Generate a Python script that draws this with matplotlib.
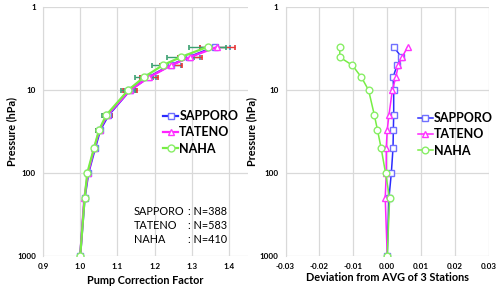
import numpy as np
import matplotlib
matplotlib.use("Agg")
import matplotlib.pyplot as plt
from matplotlib.ticker import FixedLocator, NullLocator

plt.rcParams['font.family'] = ['Lato', 'DejaVu Sans']

# pressure levels (hPa)
levels = [1000, 200, 100, 50, 30, 20, 10, 7, 5, 4, 3]

# pump correction factor per station
pcf_sapporo = [1.000, 1.012, 1.022, 1.040, 1.054, 1.076, 1.134, 1.183, 1.243, 1.292, 1.362]
pcf_tateno = [1.000, 1.011, 1.021, 1.038, 1.052, 1.073, 1.134, 1.185, 1.245, 1.295, 1.369]
pcf_naha = [1.000, 1.012, 1.019, 1.037, 1.051, 1.070, 1.129, 1.171, 1.222, 1.270, 1.343]

# standard deviation (error bars)
err_sapporo = [0.0, 0.0, 0.003, 0.005, 0.008, 0.010, 0.017, 0.022, 0.027, 0.030, 0.040]
err_tateno = [0.0, 0.0, 0.003, 0.006, 0.009, 0.012, 0.020, 0.025, 0.030, 0.033, 0.048]
err_naha = [0.0, 0.0, 0.003, 0.006, 0.009, 0.012, 0.019, 0.024, 0.028, 0.036, 0.050]

# deviation from average of 3 stations
dev_sapporo = [0.0, 0.0005, 0.0012, 0.0017, 0.0018, 0.0019, 0.0019, 0.0017, 0.0029, 0.0042, 0.0019]
dev_tateno = [0.0, -0.0006, -0.0003, -0.0003, 0.0, 0.0005, 0.0015, 0.0025, 0.0033, 0.0044, 0.0060]
dev_naha = [0.0, 0.0007, -0.0005, -0.0018, -0.0029, -0.0038, -0.0055, -0.0076, -0.0103, -0.0140, -0.0140]

stations = ['SAPPORO', 'TATENO', 'NAHA']
n_obs = [388, 583, 410]

ytick_vals = [1, 10, 100, 1000]
ytick_labels = ['1', '10', '100', '1000']
x1_ticks = [0.9, 1.0, 1.1, 1.2, 1.3, 1.4]
x2_ticks = [-0.03, -0.02, -0.01, 0.0, 0.01, 0.02, 0.03]

line_colors = ['#2b2bff', '#ff22ff', '#77ee44']
edge_colors = ['#7070ff', '#ff33ff', '#88ee66']
err_colors = ['#3a8fb0', '#e8383a', '#3aa070']
markers = ['s', '^', 'o']

fig = plt.figure(figsize=(5.0, 2.9), dpi=100)
ax1 = fig.add_axes([0.086, 0.117, 0.409, 0.858])
ax2 = fig.add_axes([0.571, 0.117, 0.407, 0.858])

pcfs = [pcf_sapporo, pcf_tateno, pcf_naha]
errs = [err_sapporo, err_tateno, err_naha]
devs = [dev_sapporo, dev_tateno, dev_naha]

# error bars first so that lines sit on top
for pcf, er, ec in zip(pcfs, errs, err_colors):
    ax1.errorbar(pcf, levels, xerr=er, fmt='none', ecolor=ec, elinewidth=1.0,
                 capsize=1.8, capthick=1.2, zorder=2)

for pcf, name, lc, mc, m in zip(pcfs, stations, line_colors, edge_colors, markers):
    ax1.plot(pcf, levels, color=lc, lw=1.6, marker=m, ms=5.0, mfc='white',
             mec=mc, mew=1.0, label=name, zorder=3)

for dv, name, lc, mc, m in zip(devs, stations, line_colors, edge_colors, markers):
    ax2.plot(dv, levels, color=lc, lw=1.1, marker=m, ms=4.8, mfc='white',
             mec=mc, mew=1.0, label=name, zorder=3)

for ax in (ax1, ax2):
    ax.set_yscale('log')
    ax.set_ylim(1000, 1)
    ax.yaxis.set_major_locator(FixedLocator(ytick_vals))
    ax.yaxis.set_minor_locator(NullLocator())
    ax.set_yticklabels(ytick_labels, fontweight='bold')
    ax.grid(True, color='#d9d9d9', lw=0.9, zorder=0)
    ax.set_axisbelow(True)
    for s in ('top', 'right', 'bottom'):
        ax.spines[s].set_visible(False)
    ax.spines['left'].set_color('#d9d9d9')
    ax.tick_params(length=0, labelsize=5.8, pad=5)

ax1.set_xlim(0.9, 1.45)
ax1.set_xticks(x1_ticks)
ax1.set_xticklabels(['%.1f' % v for v in x1_ticks], fontweight='bold')
ax1.legend(frameon=False, prop={'weight': 'bold', 'size': 9},
           handlelength=1.2, handletextpad=0.1, labelspacing=0.35,
           borderpad=0, borderaxespad=0,
           loc='upper left', bbox_to_anchor=(0.587, 0.587))
ax1.set_xlabel('Pump Correction Factor', fontweight='bold', fontsize=7.8)
ax1.xaxis.set_label_coords(0.5, -0.097)
ax1.xaxis.label.set_va('center')
ax1.set_ylabel('Pressure (hPa)', fontweight='bold', fontsize=7.8)
ax1.yaxis.set_label_coords(-0.152, 0.5)
ax1.yaxis.label.set_va('center')

ax2.set_xlim(-0.03, 0.03)
ax2.set_xticks(x2_ticks)
ax2.set_xticklabels(['%.2f' % v for v in x2_ticks], fontweight='bold')
ax2.legend(frameon=False, prop={'weight': 'bold', 'size': 9},
           handlelength=1.2, handletextpad=0.1, labelspacing=0.35,
           borderpad=0, borderaxespad=0,
           loc='upper left', bbox_to_anchor=(0.651, 0.579))
ax2.set_xlabel('Deviation from AVG of 3 Stations', fontweight='bold', fontsize=7.8)
ax2.xaxis.set_label_coords(0.5, -0.088)
ax2.xaxis.label.set_va('center')
ax2.set_ylabel('Pressure (hPa)', fontweight='bold', fontsize=7.8)
ax2.yaxis.set_label_coords(-0.166, 0.5)
ax2.yaxis.label.set_va('center')

# sample counts
row_y = [0.181, 0.121, 0.068]
for y, name, n in zip(row_y, stations, n_obs):
    ax1.text(0.445, y, name, transform=ax1.transAxes, fontsize=7.8, va='center')
    ax1.text(0.709, y, ': N=%d' % n, transform=ax1.transAxes, fontsize=7.8, va='center')

fig.savefig('out.png', dpi=100)
